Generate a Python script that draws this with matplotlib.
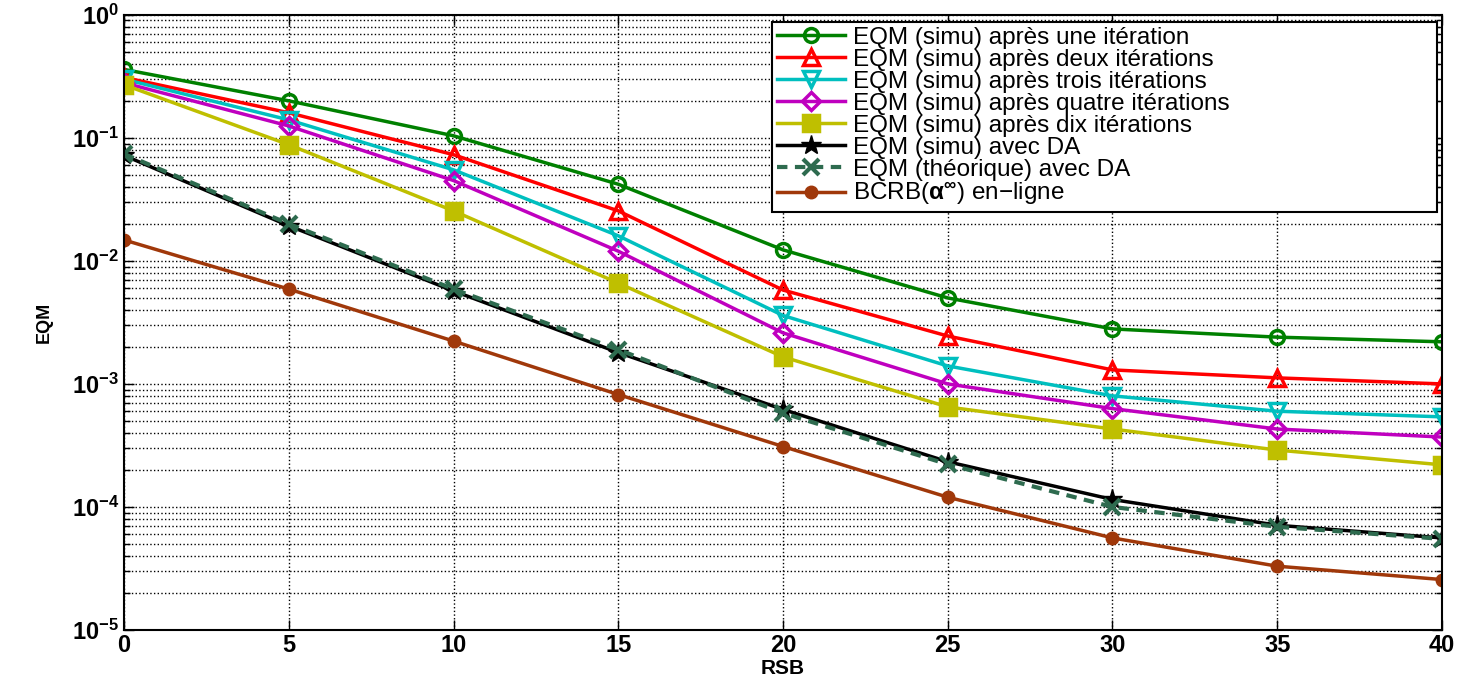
import matplotlib
matplotlib.use('Agg')
import matplotlib.pyplot as plt
from matplotlib.ticker import LogLocator, FixedLocator, LogFormatterSciNotation

plt.rcParams['font.family'] = ['Liberation Sans', 'DejaVu Sans']
plt.rcParams['mathtext.fontset'] = 'custom'
plt.rcParams['mathtext.rm'] = 'Liberation Sans'
plt.rcParams['mathtext.it'] = 'Liberation Sans:italic'
plt.rcParams['mathtext.bf'] = 'Liberation Sans:bold'

# RSB values (dB)
rsb = [0, 5, 10, 15, 20, 25, 30, 35, 40]

# EQM curves
eqm_1 = [0.36, 0.20, 0.104, 0.042, 0.0123, 0.0050, 0.0028, 0.0024, 0.0022]
eqm_2 = [0.31, 0.16, 0.073, 0.0255, 0.0058, 0.00245, 0.0013, 0.00112, 0.00100]
eqm_3 = [0.30, 0.14, 0.055, 0.016, 0.0036, 0.0014, 0.00080, 0.00060, 0.00054]
eqm_4 = [0.28, 0.125, 0.045, 0.012, 0.0026, 0.0010, 0.00063, 0.00043, 0.00037]
eqm_10 = [0.27, 0.088, 0.0255, 0.0066, 0.00166, 0.00065, 0.00043, 0.00029, 0.00022]
eqm_da = [0.072, 0.0193, 0.0057, 0.0018, 0.00062, 0.000233, 0.000115, 7.1e-5, 5.6e-5]
eqm_da_th = [0.074, 0.0200, 0.0059, 0.0019, 0.00058, 0.000222, 0.000100, 6.9e-5, 5.5e-5]
bcrb = [0.0148, 0.0059, 0.00223, 0.00082, 0.00031, 0.00012, 5.6e-5, 3.3e-5, 2.57e-5]

labels = ['EQM (simu) après une itération',
          'EQM (simu) après deux itérations',
          'EQM (simu) après trois itérations',
          'EQM (simu) après quatre itérations',
          'EQM (simu) après dix itérations',
          'EQM (simu) avec DA',
          'EQM (théorique) avec DA',
          'BCRB($\\alpha^{\\infty}$) en−ligne']

fig = plt.figure(figsize=(14.63, 6.75), dpi=100)
ax = fig.add_axes([0.0848, 0.0667, 0.9008, 0.9113])

lw = 2.5
ax.semilogy(rsb, eqm_1, '-o', color='#008000', lw=lw, ms=10, mfc='none', mew=lw, label=labels[0])
ax.semilogy(rsb, eqm_2, '-^', color='#ff0000', lw=lw, ms=11, mfc='none', mew=lw, label=labels[1])
ax.semilogy(rsb, eqm_3, '-v', color='#00bfbf', lw=lw, ms=11, mfc='none', mew=lw, label=labels[2])
ax.semilogy(rsb, eqm_4, '-D', color='#bf00bf', lw=lw, ms=9, mfc='none', mew=lw, label=labels[3])
ax.semilogy(rsb, eqm_10, '-s', color='#bfbf00', lw=lw, ms=12, mfc='#bfbf00', mew=lw, label=labels[4])
ax.semilogy(rsb, eqm_da, '-*', color='black', lw=lw, ms=15, label=labels[5])
ax.semilogy(rsb, eqm_da_th, '--x', color='#2e6b4f', lw=lw + 0.5, ms=12, mew=3,
            dashes=(2.5, 1.8), label=labels[6])
ax.semilogy(rsb, bcrb, '-o', color='#a0380a', lw=lw, ms=9, label=labels[7])

ax.set_xlim(0, 40)
ax.set_ylim(1e-5, 1)
ax.xaxis.set_major_locator(FixedLocator(rsb))
ax.yaxis.set_major_locator(LogLocator(base=10, numticks=10))
ax.yaxis.set_minor_locator(LogLocator(base=10, subs=range(2, 10), numticks=10))

ax.grid(True, which='major', linestyle=':', color='black', lw=1.0)
ax.grid(True, which='minor', axis='y', linestyle=':', color='black', lw=1.0)
ax.tick_params(which='both', direction='in', top=True, right=True)
ax.tick_params(which='major', length=7, width=1, labelsize=17)
ax.tick_params(axis='x', which='major', pad=3)
ax.tick_params(which='minor', length=4, width=1)
plt.rcParams['mathtext.default'] = 'bf'
ax.yaxis.set_major_formatter(LogFormatterSciNotation())
for lab in ax.get_xticklabels() + ax.get_yticklabels():
    lab.set_fontweight('bold')
for s in ax.spines.values():
    s.set_linewidth(1.5)

ax.set_xlabel('RSB', fontsize=15, fontweight='bold', labelpad=1)
ax.set_ylabel('EQM', fontsize=13, fontweight='bold', labelpad=14)

leg = ax.legend(loc='upper left', bbox_to_anchor=(0.492, 0.0, 0.504, 0.9885),
                mode='expand', fontsize=17.5, fancybox=False, framealpha=1,
                edgecolor='black', labelspacing=0.0, handlelength=2.8,
                handletextpad=0.3, borderpad=0.2, borderaxespad=0.0)
leg.get_frame().set_linewidth(1.5)

fig.savefig('out.png', dpi=100)
